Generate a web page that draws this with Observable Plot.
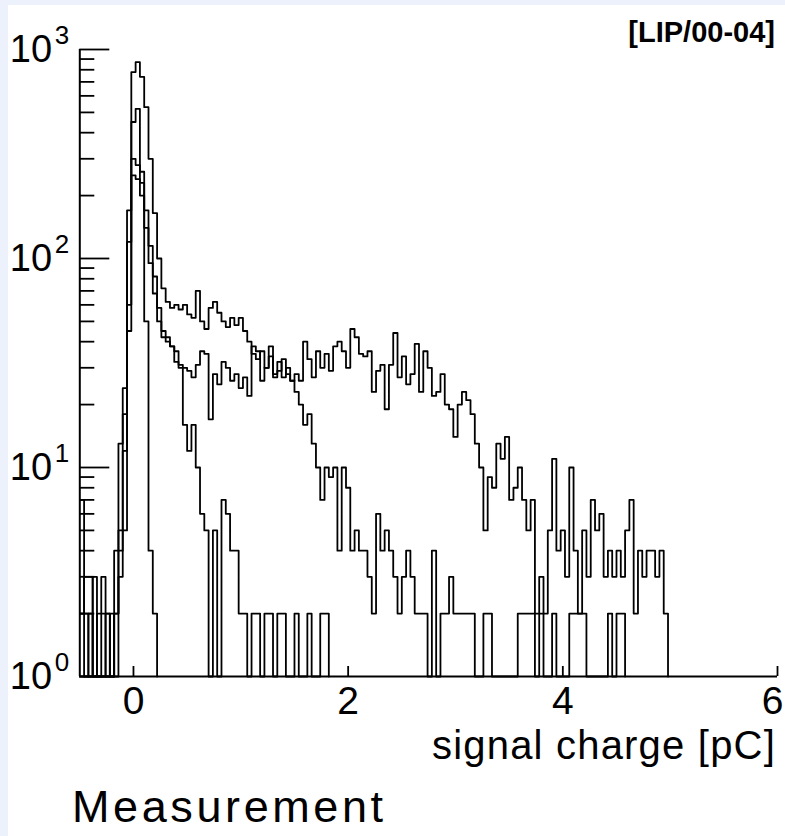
<!DOCTYPE html>
<html>
<head>
<meta charset="utf-8">
<script src="https://cdn.jsdelivr.net/npm/d3@7"></script>
<script src="https://cdn.jsdelivr.net/npm/@observablehq/plot@0.6"></script>
<style>
  html, body { margin: 0; padding: 0; background: #edf1fc; }
  #page { position: relative; width: 785px; height: 836px; background: #edf1fc; overflow: hidden; }
  #panel { position: absolute; left: 8px; top: 5px; width: 777px; height: 831px; background: #ffffff; }
  #chart { position: absolute; left: 0; top: 0; }
  .t { position: absolute; white-space: nowrap; line-height: 1; color: #000; }
  #tag { right: 10px; top: 11px; font: bold 29px "Liberation Sans", Arial, sans-serif; }
  #xlabel { right: 9px; top: 718px; font: 40px "Liberation Sans", Arial, sans-serif; letter-spacing: 1.2px; }
  #caption { left: 64px; top: 776px; font: 45px "Liberation Sans", Arial, sans-serif; letter-spacing: 3.6px; }
</style>
</head>
<body>
<div id="page">
  <div id="panel">
    <div id="chart"></div>
    <div class="t" id="tag">[LIP/00-04]</div>
    <div class="t" id="xlabel">signal charge [pC]</div>
    <div class="t" id="caption">Measurement</div>
  </div>
</div>
<script>
// Histogram bin edges (signal charge, pC)
const binEdges = [
  -0.50,-0.46,-0.42,-0.38,-0.34,-0.30,-0.26,-0.22,-0.18,-0.14,
  -0.10,-0.06,-0.02,0.02,0.06,0.10,0.14,0.18,0.22,0.26,
  0.30,0.34,0.38,0.42,0.46,0.50,0.54,0.58,0.62,0.66,
  0.70,0.74,0.78,0.82,0.86,0.90,0.94,0.98,1.02,1.06,
  1.10,1.14,1.18,1.22,1.26,1.30,1.34,1.38,1.42,1.46,
  1.50,1.54,1.58,1.62,1.66,1.70,1.74,1.78,1.82,1.86,
  1.90,1.94,1.98,2.02,2.06,2.10,2.14,2.18,2.22,2.26,
  2.30,2.34,2.38,2.42,2.46,2.50,2.54,2.58,2.62,2.66,
  2.70,2.74,2.78,2.82,2.86,2.90,2.94,2.98,3.02,3.06,
  3.10,3.14,3.18,3.22,3.26,3.30,3.34,3.38,3.42,3.46,
  3.50,3.54,3.58,3.62,3.66,3.70,3.74,3.78,3.82,3.86,
  3.90,3.94,3.98,4.02,4.06,4.10,4.14,4.18,4.22,4.26,
  4.30,4.34,4.38,4.42,4.46,4.50,4.54,4.58,4.62,4.66,
  4.70,4.74,4.78,4.82,4.86,4.90,4.94,4.98,5.02
];

// Counts per bin (starting at the first edge); bins after the list are empty
const countsPedestal = [
  0,0,0,0,0,0,0,0,2,13,
  24,120,450,520,260,50,4,2
];
const countsLow = [
  2,2,0,3,0,0,2,0,4,5,
  18,60,300,280,230,170,115,82,58,45,
  42,38,32,30,16,12,16,10,6,5,
  0,5,1,7,6,4,4,2,2,0,
  2,2,0,2,2,0,2,2,0,0,
  2,0,0,2,0,0,2,2
];
const countsMid = [
  7,0,2,0,0,2,2,0,2,3,
  5,170,780,870,740,530,300,165,100,72,
  62,58,60,57,60,54,52,70,50,46,
  58,62,55,50,47,52,48,52,45,40,
  35,33,36,30,34,28,32,27,30,26,
  23,20,16,18,13,10,7,10,9,10,
  4,10,8,4,5,4,4,3,2,6,
  4,5,4,3,2,3,4,3,2,2,
  2,0,4,0,2,2,3,2,2,2,
  2,2,0,0,2,2,0,0,0,0,
  0,0,2,2,2,2,0,2,0,0,
  2,0,0,0,2,2,2,2,0,0,
  0,0,0,2,0,2,2
];
const countsHigh = [
  2,3,3,0,2,3,0,2,0,4,
  12,45,250,240,200,140,95,68,50,42,
  40,38,36,31,30,29,27,31,36,35,
  17,28,25,32,30,26,28,24,27,22,
  38,36,26,30,38,27,29,33,28,26,
  28,26,40,33,27,36,30,35,29,38,
  40,36,30,46,42,35,34,36,23,29,
  31,19,31,44,27,34,25,28,39,23,
  36,30,22,23,28,20,19,14,20,23,
  21,18,13,10,5,9,8,13,11,14,
  7,8,10,7,5,7,2,3,2,5,
  11,4,5,3,10,4,2,5,3,7,
  5,6,3,4,3,4,3,5,7,2,
  4,3,4,4,3,4,2
];

const seriesNames = ["pedestal", "low", "mid", "high"];
const seriesCounts = [countsPedestal, countsLow, countsMid, countsHigh];

const xTicks = [0, 2, 4, 6];
const xTickLabels = ["0", "2", "4", "6"];
const yMajor = [1, 10, 100, 1000];
const yExponent = ["0", "1", "2", "3"];
const yMinor = [2,3,4,5,6,7,8,9,20,30,40,50,60,70,80,90,200,300,400,500,600,700,800,900];

// Build step points: one point per bin left edge, plus a closing edge
const points = [];
seriesCounts.forEach((counts, s) => {
  counts.forEach((c, i) => points.push({series: seriesNames[s], x: binEdges[i], count: c}));
  points.push({series: seriesNames[s], x: binEdges[counts.length], count: 0});
});

const font = "Liberation Sans, Arial, sans-serif";
const lastTick = xTicks.length - 1;

const chart = Plot.plot({
  width: 777,
  height: 710,
  marginLeft: 71.3,
  marginRight: 8,
  marginTop: 44,
  marginBottom: 39,
  x: {domain: [-0.5, 6], axis: null},
  y: {type: "log", domain: [1, 1000], axis: null},
  style: {background: "transparent", overflow: "visible", color: "#000"},
  marks: [
    Plot.line(points, {
      x: "x",
      y: d => Math.max(d.count, 1),
      z: "series",
      curve: "step-after",
      stroke: "#000",
      strokeWidth: 1.8
    }),
    Plot.ruleX([-0.5], {stroke: "#000", strokeWidth: 2}),
    Plot.ruleY([1], {stroke: "#000", strokeWidth: 2}),
    Plot.axisY({anchor: "left", ticks: yMajor, tickSize: -30, tickFormat: () => "", label: null, strokeWidth: 1.8}),
    Plot.axisY({anchor: "left", ticks: yMinor, tickSize: -15, tickFormat: () => "", label: null, strokeWidth: 1.8}),
    Plot.axisX({anchor: "bottom", ticks: xTicks, tickSize: -10, tickFormat: () => "", label: null, strokeWidth: 1.8}),
    Plot.text(xTicks.slice(0, lastTick), {
      x: d => d, frameAnchor: "bottom", lineAnchor: "top", dy: 10,
      text: (d, i) => xTickLabels[i], fontSize: 39, fontFamily: font, fill: "#000"
    }),
    Plot.text(xTicks.slice(lastTick), {
      x: d => d, frameAnchor: "bottom", lineAnchor: "top", dy: 10, dx: 6, textAnchor: "end",
      text: () => xTickLabels[lastTick], fontSize: 39, fontFamily: font, fill: "#000"
    }),
    Plot.text(yMajor, {
      y: d => d, frameAnchor: "left", textAnchor: "start", dx: -70,
      text: () => "10", fontSize: 38, fontFamily: font, fill: "#000", letterSpacing: 2
    }),
    Plot.text(yMajor, {
      y: d => d, frameAnchor: "left", textAnchor: "start", dx: -25, dy: -14,
      text: (d, i) => yExponent[i], fontSize: 26, fontFamily: font, fill: "#000"
    })
  ]
});
document.getElementById("chart").appendChild(chart);
</script>
</body>
</html>
